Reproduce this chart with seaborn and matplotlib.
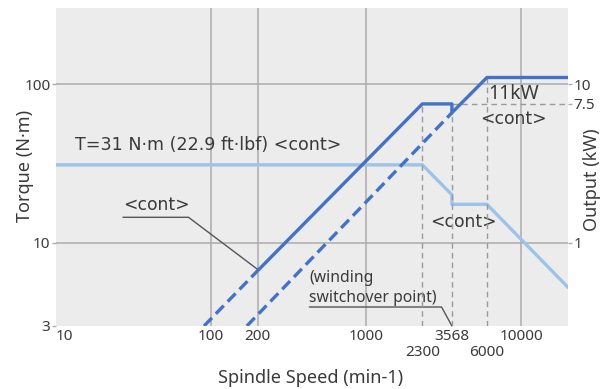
import matplotlib
matplotlib.use("Agg")
import matplotlib.pyplot as plt
import seaborn as sns
import pandas as pd
from matplotlib.ticker import FixedLocator, NullLocator, FixedFormatter

sns.set_theme(style="white")
plt.rcParams["font.family"] = ["Noto Sans", "DejaVu Sans"]

# Continuous torque curve (left axis, N·m)
torque_speed = [10, 2300, 3568, 3568, 6000, 20000]
torque_cont = [31, 31, 20.1, 17.5, 17.5, 5.25]

# Output curves (right axis, kW)
low_dash_speed = [90, 200]
low_dash_kw = [0.3, 0.67]
low_solid_speed = [200, 2300, 3568, 3568]
low_solid_kw = [0.67, 7.5, 7.5, 6.6]
high_dash_speed = [170, 3568]
high_dash_kw = [0.3, 6.6]
high_solid_speed = [3568, 6000, 20000]
high_solid_kw = [6.6, 11, 11]

# Axis ticks
x_ticks = [10, 100, 200, 1000, 3568, 10000]
x_ticks_low = [2300, 6000]
y_ticks = [3, 10, 100]
y2_ticks = [1, 7.5, 10]

DARK = "#4472c8"
LIGHT = "#9dc3e8"
GRID = "#ababab"
GUIDE = "#9a9a9a"
TXT = "#3a3a3a"
WIDE = ["DejaVu Sans"]

fig = plt.figure(figsize=(6.1, 3.89), dpi=100)
ax = fig.add_axes([0.0918, 0.162, 0.8394, 0.8167])
ax.set_facecolor("#ececec")
ax.set_xscale("log")
ax.set_yscale("log")
ax.set_xlim(10, 20000)
ax.set_ylim(3, 300)

ax2 = ax.twinx()
ax2.set_yscale("log")
ax2.set_ylim(0.3, 30)

# grid lines
for gx in [100, 200, 1000, 10000]:
    ax.axvline(gx, color=GRID, lw=1.1, zorder=1)
for gy in [10, 100]:
    ax.axhline(gy, color=GRID, lw=1.1, zorder=1)

# dashed guide lines
guide = dict(color=GUIDE, lw=1.0, ls=(0, (4, 3)), zorder=2)
ax2.plot([2300, 2300], [0.3, 7.5], **guide)
ax2.plot([3568, 3568], [0.3, 7.5], **guide)
ax2.plot([6000, 6000], [0.3, 11], **guide)
ax2.plot([3568, 20000], [7.5, 7.5], **guide)

# torque curve
df_t = pd.DataFrame({"speed": torque_speed, "torque": torque_cont})
sns.lineplot(data=df_t, x="speed", y="torque", ax=ax, sort=False,
             estimator=None, color=LIGHT, lw=2.4, zorder=3)

# output curves
def draw(sp, kw, dashed):
    d = pd.DataFrame({"speed": sp, "kw": kw})
    sns.lineplot(data=d, x="speed", y="kw", ax=ax2, sort=False,
                 estimator=None, color=DARK, lw=2.4, zorder=4,
                 linestyle=(0, (3.4, 1.7)) if dashed else "-")

draw(low_dash_speed, low_dash_kw, True)
draw(low_solid_speed, low_solid_kw, False)
draw(high_dash_speed, high_dash_kw, True)
draw(high_solid_speed, high_solid_kw, False)

# ticks
for a in (ax, ax2):
    a.tick_params(length=0, labelsize=11, colors=TXT, pad=3)
    a.set_xlabel("")
    a.set_ylabel("")
ax.xaxis.set_major_locator(FixedLocator(x_ticks))
ax.xaxis.set_minor_locator(NullLocator())
ax.xaxis.set_major_formatter(FixedFormatter([str(v) for v in x_ticks]))
ax.yaxis.set_major_locator(FixedLocator(y_ticks))
ax.yaxis.set_minor_locator(NullLocator())
ax.yaxis.set_major_formatter(FixedFormatter([str(v) for v in y_ticks]))
ax2.yaxis.set_major_locator(FixedLocator(y2_ticks))
ax2.yaxis.set_minor_locator(NullLocator())
ax2.yaxis.set_major_formatter(FixedFormatter(["1", "7.5", "10"]))
ax.tick_params(axis="x", pad=2)
ax.tick_params(axis="y", length=3, width=1, color=GRID, pad=1)
ax2.tick_params(axis="y", length=3, width=1, color=GRID, pad=1)
for lbl in ax.get_xticklabels():
    if lbl.get_text() == "10":
        lbl.set_horizontalalignment("left")

for v in x_ticks_low:
    ax.annotate(str(v), xy=(v, 0), xycoords=("data", "axes fraction"),
                xytext=(0, -13.5), textcoords="offset points",
                ha="center", va="top", fontsize=11, color=TXT)

# axis titles
fig.text(311 / 610, 1 - 378 / 389, "Spindle Speed (min-1)", fontsize=13,
         color=TXT, ha="center", va="center")
fig.text(25 / 610, 1 - 166 / 389, "Torque (N·m)", fontsize=13, color=TXT,
         ha="center", va="center", rotation=90)
fig.text(592 / 610, 1 - 180 / 389, "Output (kW)", fontsize=13, color=TXT,
         ha="center", va="center", rotation=90)

for a in (ax, ax2):
    for s in a.spines.values():
        s.set_visible(False)

# annotations
ax.text(13.3, 41.3, "T=31 N·m (22.9 ft·lbf) <cont>", fontsize=12.6,
        color=TXT, va="center", ha="left", zorder=5, family=WIDE)
ax.text(27, 17.3, "<cont>", fontsize=12.3, color=TXT, va="center",
        ha="left", family=WIDE)
ax.plot([27, 71.5, 202], [14.5, 14.5, 6.75], color="#555555", lw=1.0,
        zorder=5)
ax.text(2600, 13.5, "<cont>", fontsize=12.3, color=TXT, va="center",
        ha="left", family=WIDE)
ax2.text(6150, 8.6, "11kW", fontsize=14, color=TXT, va="center", ha="left")
ax2.text(5460, 6.0, "<cont>", fontsize=12.3, color=TXT, va="center",
         ha="left", family=WIDE)
ax.text(430, 5.22, "(winding\nswitchover point)", fontsize=11.3, color=TXT,
        va="center", ha="left", linespacing=1.3)
ax.plot([430, 3060, 3568], [3.95, 3.95, 3.0], color="#555555", lw=1.0,
        zorder=5, clip_on=False)

fig.savefig("out.png", dpi=100)
